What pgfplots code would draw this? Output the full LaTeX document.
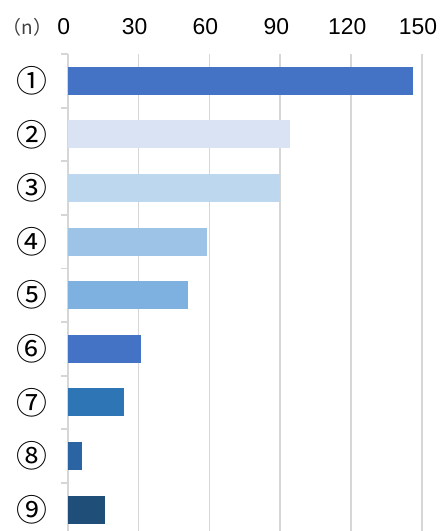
\documentclass[border=0pt]{standalone}
\usepackage{pgfplots}
\pgfplotsset{compat=1.18}
\usepackage{fontspec}
\setmainfont{Liberation Sans}
\newfontfamily\jp{Noto Sans CJK JP}
\definecolor{gridgray}{HTML}{D6D6D6}
\definecolor{c1}{HTML}{4472C4}
\definecolor{c2}{HTML}{DAE3F3}
\definecolor{c3}{HTML}{BDD7EE}
\definecolor{c4}{HTML}{9DC3E6}
\definecolor{c5}{HTML}{7FB1E0}
\definecolor{c6}{HTML}{4472C4}
\definecolor{c7}{HTML}{2E75B6}
\definecolor{c8}{HTML}{2A64A2}
\definecolor{c9}{HTML}{1F4E79}
\begin{document}
\begin{tikzpicture}
\useasboundingbox (-67.7bp,0) rectangle (372.3bp,531bp);
\begin{axis}[
  at={(0,0)}, anchor=south west,
  scale only axis, width=354.3bp, height=477bp,
  xmin=0, xmax=150, ymin=0.5, ymax=9.399, y dir=reverse,
  xbar, bar width=28bp, bar shift=0pt,
  axis x line*=top, axis y line*=left,
  x axis line style={draw=none},
  y axis line style={draw=gridgray, line width=1.8bp, -},
  xtick={0,30,60,90,120,150},
  xmajorgrids, grid style={gridgray, line width=1.8bp},
  major tick length=0pt, minor tick length=7bp, tick align=outside,
  ytick={1,...,9},
  yticklabels={①,②,③,④,⑤,⑥,⑦,⑧,⑨},
  minor ytick={0.5,1.5,2.5,3.5,4.5,5.5,6.5,7.5,8.5},
  minor y tick style={gridgray, line width=1.8bp},
  x tick label style={font=\fontsize{23}{24}\selectfont, /pgf/number format/assume math mode=true, anchor=center, yshift=27bp, xshift=-4bp},
  y tick label style={font=\jp\fontsize{31}{34}\selectfont, anchor=center, xshift=-35.7bp},
  clip=false,
]
\addplot[fill=c1, draw=none] coordinates {(146,1)};
\addplot[fill=c2, draw=none] coordinates {(94,2)};
\addplot[fill=c3, draw=none] coordinates {(90,3)};
\addplot[fill=c4, draw=none] coordinates {(59,4)};
\addplot[fill=c5, draw=none] coordinates {(51,5)};
\addplot[fill=c6, draw=none] coordinates {(31,6)};
\addplot[fill=c7, draw=none] coordinates {(24,7)};
\addplot[fill=c8, draw=none] coordinates {(6,8)};
\addplot[fill=c9, draw=none] coordinates {(16,9)};
\end{axis}
\node[font=\jp\fontsize{19}{20}\selectfont, text=black!75] at (-40.2bp,504bp) {（n）};
\end{tikzpicture}
\end{document}
